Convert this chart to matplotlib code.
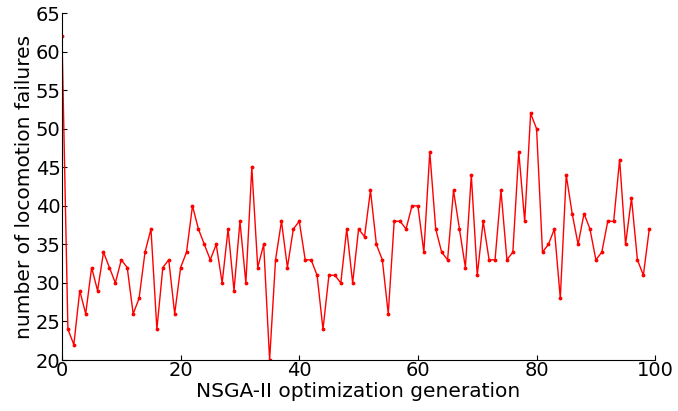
import numpy as np
import matplotlib
matplotlib.use('Agg')
from matplotlib import pyplot as plt
from matplotlib.ticker import MultipleLocator

# locomotion failures per NSGA-II generation
generations = np.arange(100)
failures = [62, 24, 22, 29, 26, 32, 29, 34, 32, 30,
            33, 32, 26, 28, 34, 37, 24, 32, 33, 26,
            32, 34, 40, 37, 35, 33, 35, 30, 37, 29,
            38, 30, 45, 32, 35, 20, 33, 38, 32, 37,
            38, 33, 33, 31, 24, 31, 31, 30, 37, 30,
            37, 36, 42, 35, 33, 26, 38, 38, 37, 40,
            40, 34, 47, 37, 34, 33, 42, 37, 32, 44,
            31, 38, 33, 33, 42, 33, 34, 47, 38, 52,
            50, 34, 35, 37, 28, 44, 39, 35, 39, 37,
            33, 34, 38, 38, 46, 35, 41, 33, 31, 37]

fig = plt.figure(figsize=(6.78, 4.11), dpi=100)
ax = fig.add_axes([0.0914, 0.124, 0.875, 0.844])
ax.plot(generations, failures, color='red', lw=1, marker='.', ms=3.5)

ax.set_xlim(0, 100)
ax.set_ylim(20, 65)
ax.xaxis.set_major_locator(MultipleLocator(20))
ax.yaxis.set_major_locator(MultipleLocator(5))
ax.spines['top'].set_visible(False)
ax.spines['right'].set_visible(False)
ax.xaxis.set_ticks_position('bottom')
ax.yaxis.set_ticks_position('left')
ax.tick_params(direction='in', labelsize=14, pad=1)
ax.set_xlabel('NSGA-II optimization generation', fontsize=14.5, labelpad=1)
ax.set_ylabel('number of locomotion failures', fontsize=14.5, labelpad=1)

fig.savefig('out.png', dpi=100)
